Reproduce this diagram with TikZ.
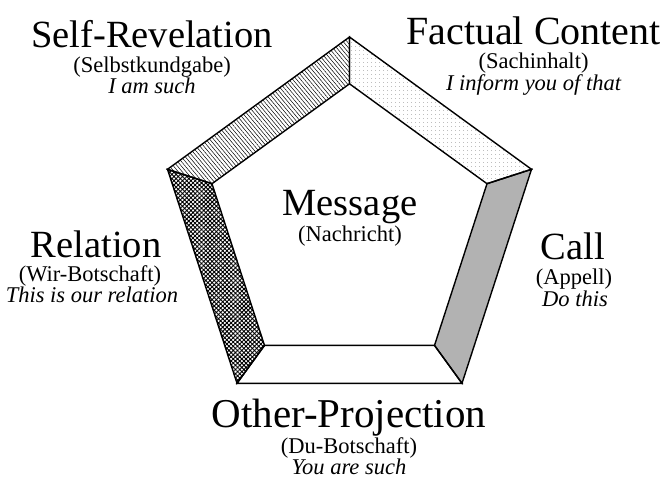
\documentclass[tikz,border=0pt]{standalone}
\usepackage{fontspec}
\setmainfont{Liberation Serif}
\usetikzlibrary{patterns.meta}
\begin{document}
\begin{tikzpicture}[x=1pt,y=-1pt,
  band/.style={draw=black, line width=1.4pt, line join=miter},
  title/.style={anchor=base, inner sep=0pt, font=\fontsize{38.5}{40}\selectfont},
  sub/.style={anchor=base, inner sep=0pt, font=\fontsize{22.5}{24}\selectfont},
  subit/.style={anchor=base, inner sep=0pt, font=\fontsize{22.5}{24}\selectfont\itshape}]
\useasboundingbox (0,0) rectangle (670,482);
% outer pentagon
\coordinate (T)  at (349.5,37.0);
\coordinate (UL) at (167.5,169.3);
\coordinate (UR) at (531.5,169.3);
\coordinate (LL) at (237.0,383.3);
\coordinate (LR) at (462.0,383.3);
% inner pentagon
\coordinate (t)  at (349.5,83.8);
\coordinate (ul) at (212.0,183.7);
\coordinate (ur) at (487.0,183.7);
\coordinate (ll) at (264.5,345.4);
\coordinate (lr) at (434.5,345.4);
% fills
\fill[pattern={Lines[angle=-50,distance=3pt,line width=0.5pt]}] (UL)--(T)--(t)--(ul)--cycle;
\fill[pattern={Dots[distance=4pt,radius=0.35pt]}, pattern color=black!60] (T)--(UR)--(ur)--(t)--cycle;
\fill[black!30] (UR)--(LR)--(lr)--(ur)--cycle;
\fill[white] (LR)--(LL)--(ll)--(lr)--cycle;
\fill[pattern={Hatch[angle=45,distance=3pt,line width=0.9pt]}] (LL)--(UL)--(ul)--(ll)--cycle;
% outlines
\draw[band] (UL)--(T)--(t)--(ul)--cycle;
\draw[band] (T)--(UR)--(ur)--(t)--cycle;
\draw[band] (UR)--(LR)--(lr)--(ur)--cycle;
\draw[band] (LR)--(LL)--(ll)--(lr)--cycle;
\draw[band] (LL)--(UL)--(ul)--(ll)--cycle;
% labels
\node[title] (srA) at (152,47)   {Self-Revelation};
\node[sub]   (srB) at (152,72)   {(Selbstkundgabe)};
\node[subit] (srC) at (152,93)   {I am such};
\node[title, font=\fontsize{40}{42}\selectfont] (fcA) at (533.5,44) {Factual Content};
\node[sub]   (fcB) at (533.5,68) {(Sachinhalt)};
\node[subit] (fcC) at (533.5,90) {I inform you of that};
\node[title] (reA) at (96,257)   {Relation};
\node[sub]   (reB) at (90,281)   {(Wir-Botschaft)};
\node[subit] (reC) at (92,302)   {This is our relation};
\node[title] (caA) at (573,259)  {Call};
\node[sub]   (caB) at (574,284)  {(Appell)};
\node[subit] (caC) at (575,306)  {Do this};
\node[title] (msA) at (350,215)  {Message};
\node[sub]   (msB) at (350,241)  {(Nachricht)};
\node[title, font=\fontsize{41}{43}\selectfont] (opA) at (349,427) {Other-Projection};
\node[sub]   (opB) at (349,453)  {(Du-Botschaft)};
\node[subit] (opC) at (349,474)  {You are such};
\end{tikzpicture}
\end{document}
